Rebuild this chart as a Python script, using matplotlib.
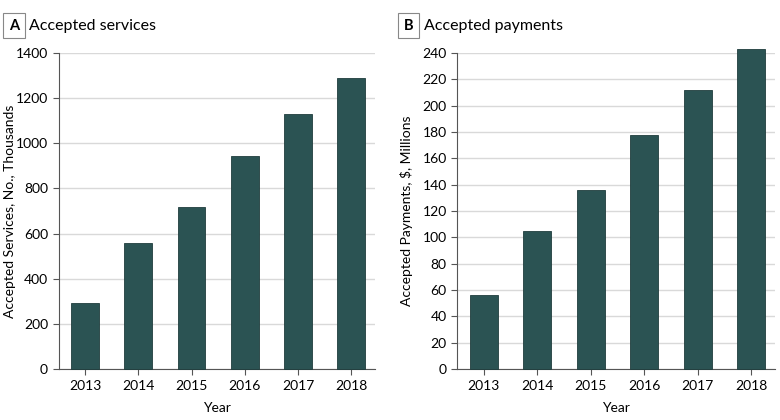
import matplotlib.pyplot as plt

# Data
years = ['2013', '2014', '2015', '2016', '2017', '2018']
services_thousands = [295, 560, 720, 945, 1128, 1287]
payments_millions = [56, 105, 136, 178, 212, 243]

BAR_COLOR = '#2b5353'
GRID_COLOR = '#d9d9d9'

plt.rcParams['font.family'] = ['Lato', 'DejaVu Sans']
plt.rcParams['font.size'] = 10

fig = plt.figure(figsize=(7.8, 4.2), dpi=100)
ax_a = fig.add_axes([0.075, 0.121, 0.406, 0.753])
ax_b = fig.add_axes([0.586, 0.121, 0.408, 0.753])


def style_panel(ax, values, ymax, step, ylabel, ylab_x):
    x = range(len(years))
    ax.bar(x, values, width=0.52, color=BAR_COLOR, edgecolor='#1f3d3d',
           linewidth=0.6, zorder=3, clip_on=False)
    ax.set_xlim(-0.5, 5.45)
    ax.set_ylim(0, ymax)
    ax.set_yticks(range(0, ymax + 1, step))
    ax.set_xticks(list(x))
    ax.set_xticklabels(years)
    ax.yaxis.grid(True, color=GRID_COLOR, linewidth=1, zorder=0)
    ax.set_axisbelow(True)
    for side in ('top', 'right'):
        ax.spines[side].set_visible(False)
    for side in ('left', 'bottom'):
        ax.spines[side].set_color('#555555')
        ax.spines[side].set_linewidth(0.8)
    ax.tick_params(axis='both', colors='#555555', length=4, width=0.8,
                   labelcolor='black', labelsize=10)
    ax.set_xlabel('Year', fontsize=10)
    ax.set_ylabel(ylabel, fontsize=10)
    ax.xaxis.set_label_coords(0.5, -0.104)
    ax.yaxis.set_label_coords(ylab_x, 0.5)


style_panel(ax_a, services_thousands, 1400, 200, 'Accepted Services, No., Thousands', -0.135)
style_panel(ax_b, payments_millions, 240, 20, 'Accepted Payments, $, Millions', -0.14)

# Panel tags and titles
for x0, tag, title in [(0.011, 'A', 'Accepted services'), (0.518, 'B', 'Accepted payments')]:
    fig.text(x0, 0.939, tag, fontsize=10.5, fontweight='bold', va='center', ha='left',
             bbox=dict(boxstyle='square,pad=0.4', facecolor='white', edgecolor='#888888', linewidth=0.8))
    fig.text(x0 + 0.026, 0.939, title, fontsize=11.5, va='center', ha='left')

fig.savefig('out.png', dpi=100)
